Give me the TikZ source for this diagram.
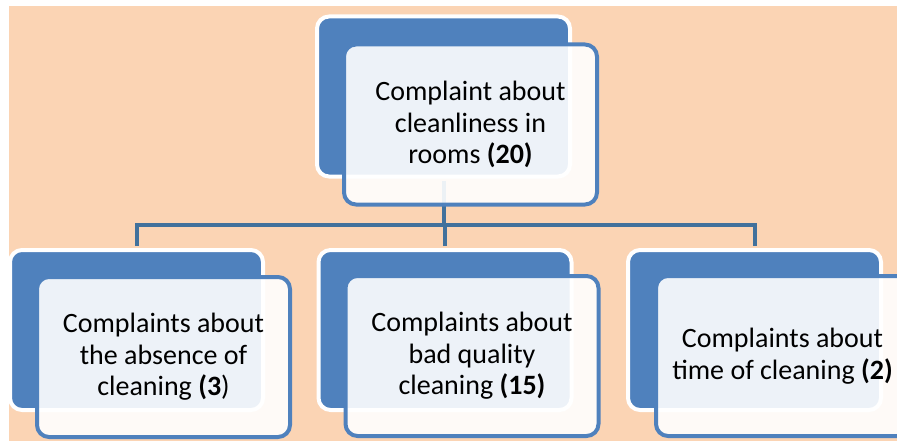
\documentclass[tikz,border=0pt]{standalone}
\usepackage{fontspec}
\setmainfont{Carlito}
\usetikzlibrary{positioning,calc}
\definecolor{peach}{HTML}{FBD4B4}
\definecolor{boxblue}{HTML}{4F81BD}
\definecolor{linkblue}{HTML}{41719C}
\tikzset{
    x=1pt,y=-1pt,
    back/.style ={rectangle, rounded corners=12pt, draw=white, line width=4pt, fill=boxblue, minimum width=253pt, minimum height=160pt, inner sep=0pt},
    front/.style ={rectangle, rounded corners=12pt, draw=boxblue, line width=4pt, fill=white, fill opacity=0.9, draw opacity=1, text opacity=1, minimum width=253pt, minimum height=160pt, inner sep=0pt, align=center, font=\fontsize{28}{31.5}\selectfont},
    link/.style = {draw=linkblue, line width=4pt, shorten <=2pt, shorten >=2pt}
}

\begin{document}
\begin{tikzpicture}
    \useasboundingbox (0,0) rectangle (897,441);
    \fill[peach] (9,6) rectangle (897,441);

    \node[back] (top) at (443.5,96.5) {};
     \node[back] (left) at (136.5,330) {};
     \node[back] (mid) at (445,330) {};
     \node[back] (right) at (754.5,330) {};

    \coordinate (bus) at (443.5,225);
      \draw[link] (top.south) -- (bus);
      \draw[link] (left.north) |- (bus) -| (right.north);
      \draw[link] (mid.north) -- (mid.north |- bus);

    \node[front] (topf) at ([shift={(27,28)}]top.center) {Complaint about\\cleanliness in\\rooms \textbf{(20)}};
     \node[front] (leftf) at ([shift={(27,27)}]left.center) {Complaints about\\the absence of\\cleaning \textbf{(3})};
     \node[front] (midf) at ([shift={(27,26)}]mid.center) {Complaints about\\bad quality\\cleaning \textbf{(15)}};
     \node[front] (rightf) at ([shift={(28,26)}]right.center) {Complaints about\\time of cleaning \textbf{(2)}};

\end{tikzpicture}
\end{document}
